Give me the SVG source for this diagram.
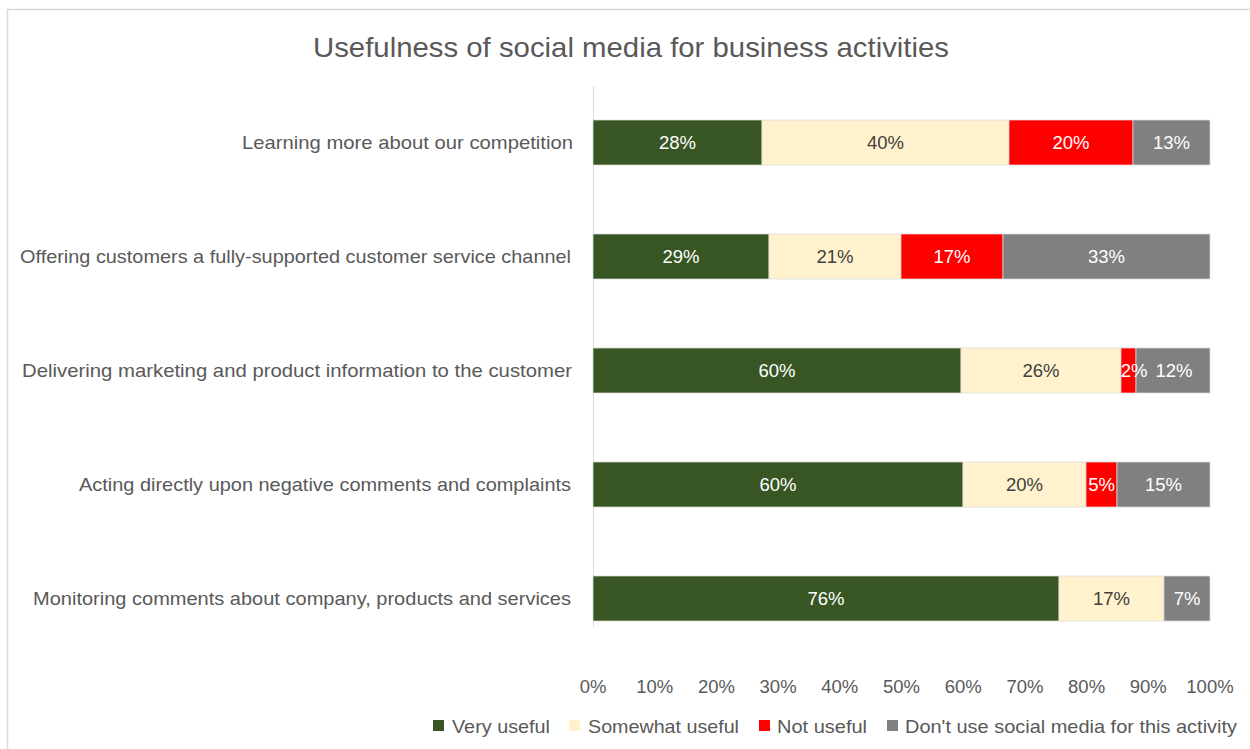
<svg xmlns="http://www.w3.org/2000/svg" width="1250" height="749" viewBox="0 0 1250 749">
<style>
text{font-family:"Liberation Sans",Arial,sans-serif;}
.title{font-size:28px;fill:#595959;}
.cat{font-size:19px;fill:#595959;text-anchor:end;}
.tick{font-size:18.5px;fill:#595959;text-anchor:middle;}
.dl{font-size:18.5px;text-anchor:middle;fill:#ffffff;}
.dl.dk{fill:#404040;}
.leg{font-size:19px;fill:#595959;}
.vu{fill:#375623;}
.sw{fill:#FFF2CC;}
.nu{fill:#FF0000;}
.du{fill:#808080;}
.seg{stroke:#d9d9d9;stroke-width:0.75;}
</style>
<rect x="0" y="0" width="1250" height="749" fill="#ffffff"/>
<path d="M7.5 749 V9.5 H1250" fill="none" stroke="#d9d9d9" stroke-width="1.5"/>
<text class="title" x="631" y="57" text-anchor="middle" textLength="636" lengthAdjust="spacingAndGlyphs">Usefulness of social media for business activities</text>

<g id="axis">
<line x1="593.5" y1="86" x2="593.5" y2="627" stroke="#d9d9d9" stroke-width="1"/>
<text class="tick" x="593" y="693">0%</text>
<text class="tick" x="654.7" y="693">10%</text>
<text class="tick" x="716.4" y="693">20%</text>
<text class="tick" x="778.1" y="693">30%</text>
<text class="tick" x="839.8" y="693">40%</text>
<text class="tick" x="901.5" y="693">50%</text>
<text class="tick" x="963.2" y="693">60%</text>
<text class="tick" x="1024.9" y="693">70%</text>
<text class="tick" x="1086.6" y="693">80%</text>
<text class="tick" x="1148.3" y="693">90%</text>
<text class="tick" x="1210" y="693">100%</text>
</g>

<g id="row1">
<text class="cat" x="573" y="149" textLength="331" lengthAdjust="spacingAndGlyphs">Learning more about our competition</text>
<rect class="seg vu" x="593" y="120" width="169" height="45"/>
<rect class="seg sw" x="762" y="120" width="247" height="45"/>
<rect class="seg nu" x="1009" y="120" width="124" height="45"/>
<rect class="seg du" x="1133" y="120" width="77" height="45"/>
<text class="dl" x="677.5" y="149">28%</text>
<text class="dl dk" x="885.5" y="149">40%</text>
<text class="dl" x="1071" y="149">20%</text>
<text class="dl" x="1171.5" y="149">13%</text>
</g>

<g id="row2">
<text class="cat" x="571" y="263" textLength="551" lengthAdjust="spacingAndGlyphs">Offering customers a fully-supported customer service channel</text>
<rect class="seg vu" x="593" y="234" width="176" height="45"/>
<rect class="seg sw" x="769" y="234" width="132" height="45"/>
<rect class="seg nu" x="901" y="234" width="102" height="45"/>
<rect class="seg du" x="1003" y="234" width="207" height="45"/>
<text class="dl" x="681" y="263">29%</text>
<text class="dl dk" x="835" y="263">21%</text>
<text class="dl" x="952" y="263">17%</text>
<text class="dl" x="1106.5" y="263">33%</text>
</g>

<g id="row3">
<text class="cat" x="572" y="377" textLength="550" lengthAdjust="spacingAndGlyphs">Delivering marketing and product information to the customer</text>
<rect class="seg vu" x="593" y="348" width="368" height="45"/>
<rect class="seg sw" x="961" y="348" width="160" height="45"/>
<rect class="seg nu" x="1121" y="348" width="15" height="45"/>
<rect class="seg du" x="1136" y="348" width="74" height="45"/>
<text class="dl" x="777" y="377">60%</text>
<text class="dl dk" x="1041" y="377">26%</text>
<text class="dl" x="1134" y="377">2%</text>
<text class="dl" x="1174" y="377">12%</text>
</g>

<g id="row4">
<text class="cat" x="571" y="491" textLength="492" lengthAdjust="spacingAndGlyphs">Acting directly upon negative comments and complaints</text>
<rect class="seg vu" x="593" y="462" width="370" height="45"/>
<rect class="seg sw" x="963" y="462" width="123" height="45"/>
<rect class="seg nu" x="1086" y="462" width="31" height="45"/>
<rect class="seg du" x="1117" y="462" width="93" height="45"/>
<text class="dl" x="778" y="491">60%</text>
<text class="dl dk" x="1024.5" y="491">20%</text>
<text class="dl" x="1101.5" y="491">5%</text>
<text class="dl" x="1163.5" y="491">15%</text>
</g>

<g id="row5">
<text class="cat" x="571" y="605" textLength="538" lengthAdjust="spacingAndGlyphs">Monitoring comments about company, products and services</text>
<rect class="seg vu" x="593" y="576" width="466" height="45"/>
<rect class="seg sw" x="1059" y="576" width="105" height="45"/>
<rect class="seg du" x="1164" y="576" width="46" height="45"/>
<text class="dl" x="826" y="605">76%</text>
<text class="dl dk" x="1111.5" y="605">17%</text>
<text class="dl" x="1187" y="605">7%</text>
</g>

<g id="legend">
<rect class="vu" x="433" y="720" width="11" height="11"/>
<text class="leg" x="452" y="733" textLength="98" lengthAdjust="spacingAndGlyphs">Very useful</text>
<rect class="sw" x="569" y="720" width="11" height="11"/>
<text class="leg" x="588" y="733" textLength="151" lengthAdjust="spacingAndGlyphs">Somewhat useful</text>
<rect class="nu" x="759" y="720" width="11" height="11"/>
<text class="leg" x="777" y="733" textLength="90" lengthAdjust="spacingAndGlyphs">Not useful</text>
<rect class="du" x="887" y="720" width="11" height="11"/>
<text class="leg" x="905" y="733" textLength="332" lengthAdjust="spacingAndGlyphs">Don't use social media for this activity</text>
</g>
</svg>
